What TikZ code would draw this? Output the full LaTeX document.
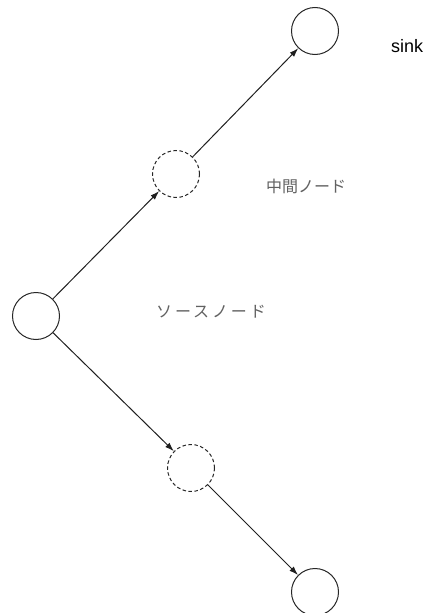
\documentclass[tikz,border=0pt]{standalone}
\usepackage{fontspec}
\setmainfont{Liberation Sans}
\newfontfamily\jpfont{Noto Sans CJK JP}
\newfontfamily\jpwide{Noto Sans CJK JP}[LetterSpace=18]
\usetikzlibrary{arrows.meta}
\begin{document}
\begin{tikzpicture}[x=1pt,y=-1pt,
  solidnode/.style={circle,draw=black!85,line width=1pt,minimum size=47pt,inner sep=0pt},
  dashnode/.style={circle,draw=black!85,dash pattern=on 3.5pt off 2.5pt,line width=1pt,minimum size=47pt,inner sep=0pt},
  edge/.style={-{Latex[length=9pt,width=6pt]},line width=1pt,black!88},
  lbl/.style={text=black!62,inner sep=0pt}]
\useasboundingbox (0,0) rectangle (427,613);
\node[solidnode] (sink) at (315,31) {};
\node[dashnode] (mid1) at (176,174) {};
\node[solidnode] (src) at (36,316) {};
\node[dashnode] (mid2) at (191,468) {};
\node[solidnode] (bot) at (315,592) {};
\node[font=\fontsize{18pt}{20pt}\selectfont,inner sep=0pt,anchor=west] (sinklbl) at (391,46) {sink};
\node[lbl,font=\jpfont\fontsize{16pt}{18pt}\selectfont] (midlbl) at (306,186) {中間ノード};
\node[lbl,font=\jpwide\fontsize{16pt}{18pt}\selectfont] (srclbl) at (211,312) {ソースノード};
\draw[edge] (src) -- (mid1);
\draw[edge] (mid1) -- (sink);
\draw[edge] (src) -- (mid2);
\draw[edge] (mid2) -- (bot);
\end{tikzpicture}
\end{document}
